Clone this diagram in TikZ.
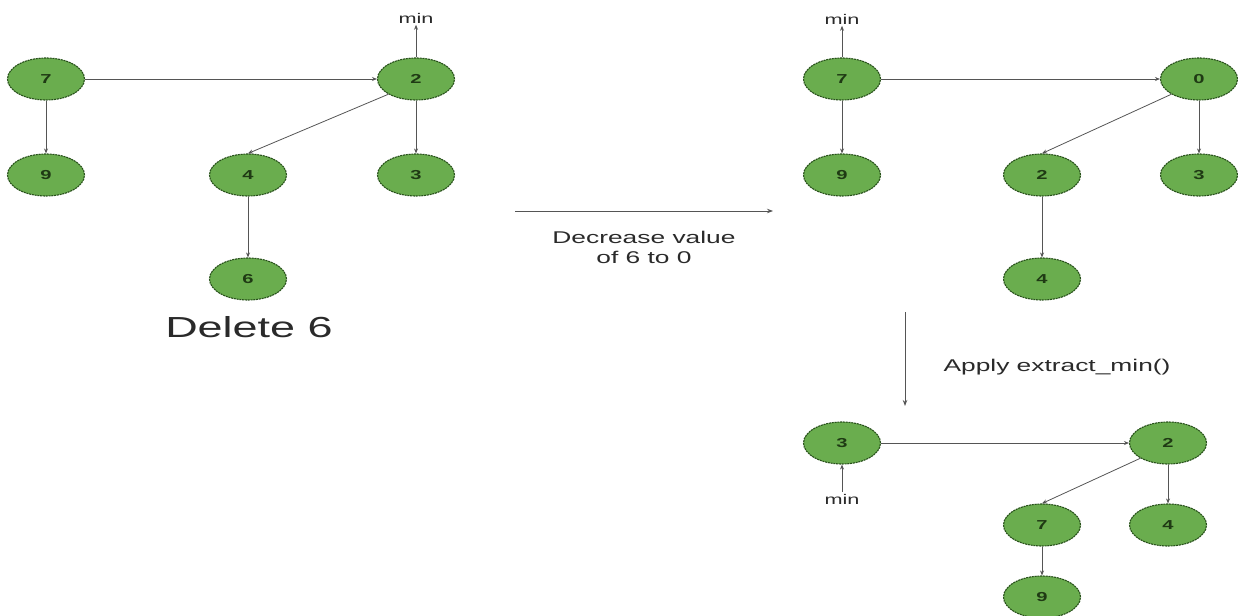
\documentclass[tikz,border=0pt]{standalone}
\usepackage{fontspec}
\setmainfont{Liberation Sans}
\newfontfamily\wf[FakeStretch=1.55]{Liberation Sans}
\usetikzlibrary{shapes.geometric,arrows.meta}
\definecolor{nodefill}{HTML}{6AAD4E}
\definecolor{nodeedge}{HTML}{27501A}
\definecolor{nodetext}{HTML}{1F3A14}
\definecolor{linec}{HTML}{555555}
\definecolor{textc}{HTML}{2A2A2A}
\begin{document}
\begin{tikzpicture}[x=1pt,y=-1pt,
  hnode/.style={ellipse,draw=nodeedge,fill=nodefill,line width=1.1pt,dash pattern=on 2pt off 0.8pt,
    minimum width=77pt,minimum height=42pt,inner sep=0pt,
    font=\wf\fontsize{13}{13}\selectfont\bfseries,text=nodetext},
  minlbl/.style={inner sep=1.5pt,font=\wf\fontsize{14}{14}\selectfont,text=textc},
  lbl/.style={align=center,font=\wf\fontsize{17}{20}\selectfont,text=textc},
  edge/.style={draw=linec,line width=0.8pt,-{Stealth[length=5pt,width=4pt]}},
  trans/.style={draw=linec,line width=0.9pt,-{Stealth[length=6pt,width=4.5pt]}}]
\useasboundingbox (0,0) rectangle (1238,615);
% left heap
\node[hnode] (a7) at (46,79) {7};
\node[hnode] (a2) at (416,79) {2};
\node[hnode] (a9) at (46,175) {9};
\node[hnode] (a4) at (248,175) {4};
\node[hnode] (a3) at (416,175) {3};
\node[hnode] (a6) at (248,279) {6};
\node[minlbl] (amin) at (416,18) {min};
\draw[edge] (a7) -- (a2);
\draw[edge] (a7) -- (a9);
\draw[edge] (a2.south west) -- (a4.north);
\draw[edge] (a2) -- (a3);
\draw[edge] (a4) -- (a6);
\draw[edge] (a2) -- (amin);
\node[font=\wf\fontsize{29}{30}\selectfont,text=textc] (del) at (249,327) {Delete 6};
% transition 1
\coordinate (t1s) at (515,211);
\coordinate (t1e) at (773,211);
\draw[trans] (t1s) -- (t1e);
\node[lbl] (t1l) at (644,247) {Decrease value\\of 6 to 0};
% right heap
\node[hnode] (b7) at (842,79) {7};
\node[hnode] (b0) at (1199,79) {0};
\node[hnode] (b9) at (842,175) {9};
\node[hnode] (b2) at (1042,175) {2};
\node[hnode] (b3) at (1199,175) {3};
\node[hnode] (b4) at (1042,279) {4};
\node[minlbl] (bmin) at (842,19) {min};
\draw[edge] (b7) -- (b0);
\draw[edge] (b7) -- (b9);
\draw[edge] (b0.south west) -- (b2.north);
\draw[edge] (b0) -- (b3);
\draw[edge] (b2) -- (b4);
\draw[edge] (b7) -- (bmin);
% transition 2
\coordinate (t2s) at (905,312);
\coordinate (t2e) at (905,406);
\draw[trans] (t2s) -- (t2e);
\node[lbl] (t2l) at (1057,367) {Apply extract\_min()};
% bottom heap
\node[hnode] (c3) at (842,443) {3};
\node[hnode] (c2) at (1168,443) {2};
\node[hnode] (c7) at (1042,525) {7};
\node[hnode] (c4) at (1168,525) {4};
\node[hnode] (c9) at (1042,597) {9};
\node[minlbl] (cmin) at (842,499) {min};
\draw[edge] (c3) -- (c2);
\draw[edge] (c2.south west) -- (c7.north);
\draw[edge] (c2) -- (c4);
\draw[edge] (c7) -- (c9);
\draw[edge] (cmin) -- (c3);
\end{tikzpicture}
\end{document}
